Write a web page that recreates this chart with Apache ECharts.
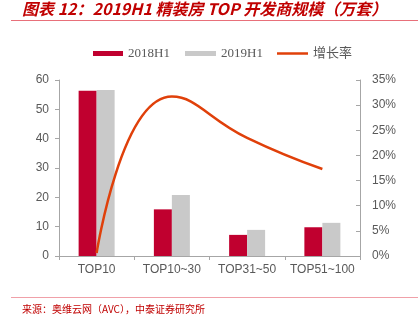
<!DOCTYPE html>
<html>
<head>
<meta charset="utf-8">
<script src="https://cdn.jsdelivr.net/npm/echarts@6/dist/echarts.min.js"></script>
<style>
html,body{margin:0;padding:0;background:#fff;}
#c{width:418px;height:323px;}
</style>
</head>
<body>
<div id="c"></div>
<script>
var categories = ['TOP10', 'TOP10~30', 'TOP31~50', 'TOP51~100'];
var h2018 = [56.3, 15.9, 7.2, 9.8];
var h2019 = [56.6, 20.8, 8.9, 11.3];
var growth = [0.6, 31.7, 23.5, 17.3];
var leftTicks = [0, 60, 10];
var rightTicks = [0, 35, 5];

var chart = echarts.init(document.getElementById('c'));
var axisGray = '#a6a6a6';
var labelGray = '#595959';
var legendText = {color: labelGray, fontSize: 13, fontFamily: 'Liberation Serif, Noto Sans CJK SC'};
chart.setOption({
  animation: false,
  backgroundColor: '#fff',
  grid: {left: 59, right: 58, top: 80, bottom: 67},
  legend: [
    {top: 42, left: 88, itemWidth: 30, itemHeight: 5, textStyle: legendText,
      data: [{name: '2018H1', icon: 'rect'}]},
    {top: 42, left: 180, itemWidth: 31, itemHeight: 5, textStyle: legendText,
      data: [{name: '2019H1', icon: 'rect'}]},
    {top: 42, left: 272, itemWidth: 31, itemHeight: 2.5, textStyle: legendText,
      data: [{name: '增长率', icon: 'rect'}]}
  ],
  xAxis: {
    type: 'category',
    data: categories,
    axisLine: {lineStyle: {color: axisGray}},
    axisTick: {show: true, length: 4, lineStyle: {color: axisGray}},
    axisLabel: {color: labelGray, fontSize: 12, fontFamily: 'Liberation Sans', margin: 8, interval: 0}
  },
  yAxis: [
    {
      type: 'value', min: leftTicks[0], max: leftTicks[1], interval: leftTicks[2],
      axisLine: {show: true, lineStyle: {color: axisGray}},
      axisTick: {show: true, length: 4, lineStyle: {color: axisGray}},
      splitLine: {show: false},
      axisLabel: {color: labelGray, fontSize: 12, fontFamily: 'Liberation Sans', margin: 10}
    },
    {
      type: 'value', min: rightTicks[0], max: rightTicks[1], interval: rightTicks[2],
      axisLine: {show: true, lineStyle: {color: axisGray}},
      axisTick: {show: true, length: 4, inside: true, lineStyle: {color: axisGray}},
      splitLine: {show: false},
      axisLabel: {color: labelGray, fontSize: 12, fontFamily: 'Liberation Sans', margin: 12,
        formatter: function (v) { return v + '%'; }}
    }
  ],
  series: [
    {name: '2018H1', type: 'bar', data: h2018, barWidth: 18, barGap: '0%',
      itemStyle: {color: '#c0002f'}},
    {name: '2019H1', type: 'bar', data: h2019, barWidth: 18,
      itemStyle: {color: '#c9c9c9'}},
    {name: '增长率', type: 'line', yAxisIndex: 1, data: growth, smooth: 0.5,
      symbol: 'none', showSymbol: false,
      lineStyle: {color: '#e0400a', width: 2.5}, itemStyle: {color: '#e0400a'}}
  ],
  graphic: [
    {type: 'text', left: 22, top: 1, style: {text: '图表 12：2019H1 精装房 TOP 开发商规模（万套）',
      fill: '#c00000', font: 'italic bold 16px "Noto Sans CJK SC", "Liberation Sans"'}},
    {type: 'line', shape: {x1: 11, y1: 20.5, x2: 418, y2: 20.5}, style: {stroke: '#e8707a', lineWidth: 1}},
    {type: 'line', shape: {x1: 11, y1: 297.5, x2: 418, y2: 297.5}, style: {stroke: '#f0a0a8', lineWidth: 1}},
    {type: 'text', left: 22, top: 304, style: {text: '来源：奥维云网（AVC），中泰证券研究所',
      fill: '#c00000', font: '10px "Noto Sans CJK SC"'}}
  ]
});
</script>
</body>
</html>
